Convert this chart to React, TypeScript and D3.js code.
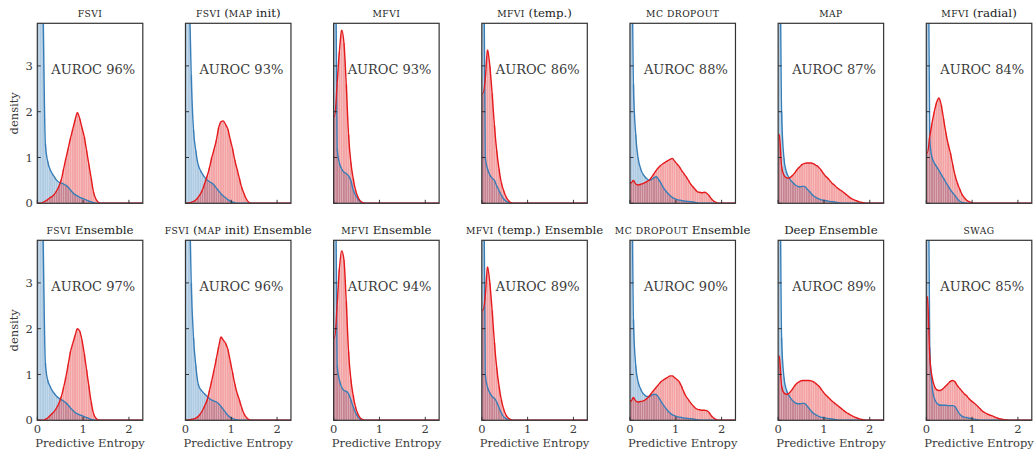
import React from "react";
import * as d3 from "d3";

// ---- data: histogram densities per 0.05-wide bin of predictive entropy (bins start at 0) ----
const BIN = 0.05;
const X_MAX = Math.log(10);
const Y_MAX = 3.93;

const titlesTop = ["FSVI", "FSVI (MAP init)", "MFVI", "MFVI (temp.)", "MC DROPOUT", "MAP", "MFVI (radial)"];
const titlesBottom = ["FSVI Ensemble", "FSVI (MAP init) Ensemble", "MFVI Ensemble", "MFVI (temp.) Ensemble", "MC DROPOUT Ensemble", "Deep Ensemble", "SWAG"];
const aurocTop = [96, 93, 93, 86, 88, 87, 84];
const aurocBottom = [97, 96, 94, 89, 90, 89, 85];
const yTicks = [0, 1, 2, 3];
const xTicks = [0, 1, 2];

// in-distribution (blue)
const fsviIn = [9, 6, 4.2, 1.3, 0.92, 0.75, 0.65, 0.57, 0.5, 0.46, 0.44, 0.42, 0.39, 0.35, 0.29, 0.23, 0.19, 0.16, 0.13, 0.11, 0.09, 0.07, 0.05, 0.03, 0.015, 0.005];
const fsviMapIn = [9, 5, 2.8, 1.6, 1.15, 0.85, 0.72, 0.63, 0.56, 0.51, 0.47, 0.44, 0.4, 0.33, 0.27, 0.21, 0.16, 0.12, 0.08, 0.05, 0.03, 0.01];
const mfviIn = [8, 1.2, 0.88, 0.75, 0.68, 0.65, 0.6, 0.5, 0.3, 0.18, 0.1, 0.04, 0.01];
const mfviTempIn = [8, 1.0, 0.75, 0.62, 0.55, 0.5, 0.38, 0.28, 0.18, 0.1, 0.05, 0.02];
const mcdIn = [7, 2.6, 1.5, 1.0, 0.78, 0.65, 0.58, 0.53, 0.5, 0.52, 0.56, 0.58, 0.52, 0.44, 0.35, 0.28, 0.22, 0.17, 0.13, 0.1, 0.08, 0.07, 0.06, 0.05, 0.045, 0.04, 0.035, 0.03, 0.02, 0.01];
const mapIn = [7, 2.0, 1.0, 0.7, 0.58, 0.5, 0.45, 0.4, 0.37, 0.36, 0.37, 0.37, 0.32, 0.27, 0.21, 0.16, 0.13, 0.1, 0.08, 0.07, 0.06, 0.05, 0.04, 0.035, 0.03, 0.02, 0.01];
const radialIn = [8, 1.4, 1.0, 0.88, 0.8, 0.72, 0.63, 0.55, 0.46, 0.38, 0.3, 0.23, 0.17, 0.1, 0.05, 0.02, 0.01];
const fsviEnsIn = [9, 6, 4.0, 1.25, 0.88, 0.75, 0.65, 0.58, 0.52, 0.48, 0.45, 0.42, 0.38, 0.33, 0.27, 0.22, 0.17, 0.14, 0.12, 0.1, 0.08, 0.06, 0.04, 0.02, 0.01];
const fsviMapEnsIn = [9, 5.5, 3.0, 1.8, 1.2, 0.8, 0.68, 0.62, 0.57, 0.52, 0.47, 0.44, 0.42, 0.4, 0.36, 0.3, 0.24, 0.17, 0.11, 0.07, 0.04, 0.02, 0.01];
const mfviEnsIn = [8, 1.2, 0.88, 0.72, 0.65, 0.63, 0.58, 0.45, 0.3, 0.17, 0.08, 0.03, 0.01];
const mfviTempEnsIn = [8, 1.0, 0.72, 0.6, 0.52, 0.48, 0.4, 0.28, 0.16, 0.08, 0.04, 0.01];
const mcdEnsIn = [7, 2.2, 1.2, 0.85, 0.7, 0.6, 0.55, 0.52, 0.52, 0.55, 0.57, 0.56, 0.5, 0.42, 0.34, 0.27, 0.21, 0.16, 0.12, 0.1, 0.08, 0.07, 0.06, 0.05, 0.045, 0.04, 0.035, 0.03, 0.02, 0.01];
const deepEnsIn = [7, 1.8, 0.95, 0.68, 0.56, 0.48, 0.42, 0.38, 0.36, 0.36, 0.37, 0.37, 0.32, 0.26, 0.2, 0.15, 0.12, 0.09, 0.07, 0.06, 0.05, 0.04, 0.035, 0.03, 0.02, 0.01];
const swagIn = [8, 1.6, 0.75, 0.48, 0.38, 0.34, 0.33, 0.33, 0.33, 0.32, 0.32, 0.32, 0.3, 0.22, 0.14, 0.09, 0.07, 0.06, 0.05, 0.04, 0.03, 0.02, 0.01];

// out-of-distribution (red)
const fsviOut = [0, 0, 0.02, 0.05, 0.08, 0.12, 0.15, 0.2, 0.28, 0.38, 0.52, 0.75, 0.98, 1.2, 1.42, 1.62, 1.82, 1.98, 1.85, 1.65, 1.45, 1.15, 0.85, 0.55, 0.25, 0.1, 0.03];
const fsviMapOut = [0, 0.01, 0.02, 0.04, 0.07, 0.13, 0.2, 0.3, 0.45, 0.6, 0.78, 1.0, 1.18, 1.38, 1.65, 1.78, 1.8, 1.72, 1.62, 1.4, 1.2, 0.95, 0.75, 0.55, 0.35, 0.22, 0.1, 0.03];
const mfviOut = [1.9, 2.6, 3.3, 3.78, 3.5, 2.6, 1.5, 0.9, 0.55, 0.3, 0.15, 0.06, 0.02];
const mfviTempOut = [2.4, 2.7, 3.35, 3.0, 2.4, 1.7, 1.15, 0.75, 0.45, 0.28, 0.15, 0.07, 0.02];
const mcdOut = [0.45, 0.5, 0.42, 0.4, 0.41, 0.43, 0.45, 0.48, 0.51, 0.57, 0.65, 0.72, 0.78, 0.83, 0.87, 0.9, 0.93, 0.96, 0.98, 0.92, 0.86, 0.8, 0.72, 0.65, 0.58, 0.5, 0.42, 0.36, 0.3, 0.25, 0.24, 0.23, 0.24, 0.22, 0.17, 0.1, 0.05, 0.02];
const mapOut = [1.5, 0.8, 0.62, 0.56, 0.55, 0.57, 0.62, 0.68, 0.75, 0.8, 0.85, 0.87, 0.88, 0.88, 0.88, 0.86, 0.83, 0.8, 0.74, 0.67, 0.6, 0.56, 0.5, 0.44, 0.4, 0.35, 0.31, 0.28, 0.24, 0.2, 0.16, 0.12, 0.09, 0.07, 0.05, 0.03, 0.02, 0.01];
const radialOut = [1.1, 1.45, 1.75, 2.0, 2.2, 2.3, 2.15, 1.85, 1.55, 1.3, 1.1, 0.85, 0.62, 0.45, 0.32, 0.2, 0.13, 0.07, 0.04, 0.02];
const fsviEnsOut = [0, 0, 0, 0.02, 0.05, 0.1, 0.15, 0.2, 0.28, 0.38, 0.52, 0.72, 0.95, 1.22, 1.5, 1.68, 1.85, 2.0, 1.95, 1.75, 1.45, 1.1, 0.75, 0.4, 0.15, 0.05, 0.01];
const fsviMapEnsOut = [0, 0.01, 0.02, 0.03, 0.05, 0.08, 0.14, 0.22, 0.33, 0.45, 0.65, 0.87, 1.1, 1.35, 1.6, 1.82, 1.75, 1.68, 1.55, 1.3, 1.05, 0.8, 0.6, 0.45, 0.28, 0.15, 0.07, 0.02];
const mfviEnsOut = [1.8, 2.5, 3.3, 3.7, 3.5, 2.6, 1.5, 0.9, 0.55, 0.3, 0.15, 0.06, 0.02];
const mfviTempEnsOut = [2.4, 2.7, 3.35, 3.0, 2.4, 1.7, 1.15, 0.75, 0.45, 0.25, 0.12, 0.05, 0.02];
const mcdEnsOut = [0.42, 0.5, 0.42, 0.4, 0.41, 0.42, 0.44, 0.48, 0.53, 0.6, 0.66, 0.72, 0.78, 0.84, 0.88, 0.91, 0.94, 0.97, 0.97, 0.93, 0.89, 0.84, 0.74, 0.62, 0.52, 0.45, 0.38, 0.32, 0.27, 0.24, 0.23, 0.22, 0.22, 0.21, 0.17, 0.1, 0.05, 0.02];
const deepEnsOut = [1.4, 0.75, 0.6, 0.57, 0.58, 0.63, 0.7, 0.77, 0.82, 0.85, 0.87, 0.87, 0.87, 0.87, 0.86, 0.84, 0.8, 0.76, 0.7, 0.63, 0.57, 0.52, 0.47, 0.42, 0.38, 0.34, 0.3, 0.26, 0.22, 0.18, 0.15, 0.12, 0.09, 0.07, 0.05, 0.03, 0.02, 0.01];
const swagOut = [2.7, 1.4, 0.95, 0.75, 0.67, 0.65, 0.66, 0.7, 0.75, 0.8, 0.85, 0.87, 0.84, 0.76, 0.7, 0.64, 0.58, 0.54, 0.48, 0.43, 0.39, 0.35, 0.3, 0.25, 0.2, 0.17, 0.14, 0.12, 0.1, 0.08, 0.06, 0.04, 0.03, 0.02, 0.01, 0.01];

const inTop = [fsviIn, fsviMapIn, mfviIn, mfviTempIn, mcdIn, mapIn, radialIn];
const outTop = [fsviOut, fsviMapOut, mfviOut, mfviTempOut, mcdOut, mapOut, radialOut];
const inBottom = [fsviEnsIn, fsviMapEnsIn, mfviEnsIn, mfviTempEnsIn, mcdEnsIn, deepEnsIn, swagIn];
const outBottom = [fsviEnsOut, fsviMapEnsOut, mfviEnsOut, mfviTempEnsOut, mcdEnsOut, deepEnsOut, swagOut];

const BLUE = "#377eb8";
const RED = "#e41a1c";
const FONT = '"DejaVu Serif", serif';
const TEXT = "#3a3a3a";

const W = 1036;
const H = 456;
const PW = 105.5;
const PH = 180;
const ROW_TOP = [23.3, 240.3];
const colX = d3.scaleLinear().domain([0, 6]).range([37.3, 926.3]);

function capsTokens(s: string) {
  return s.split(/([A-Z]{2,})/).filter((t) => t.length > 0).map((t) => ({ t, caps: /^[A-Z]{2,}$/.test(t) }));
}

const serif = { fontFamily: FONT } as React.CSSProperties;

function Title({ text, x, y }: { text: string; x: number; y: number }) {
  return (
    <text x={x} y={y} textAnchor="middle" style={{ ...serif, fontSize: 11.8 }} fill="#222">
      {capsTokens(text).map((tk, i) => (
        <tspan key={i} style={{ fontSize: tk.caps ? 9.2 : 11.8, letterSpacing: tk.caps ? 0.4 : 0 }}>
          {tk.t}
        </tspan>
      ))}
    </text>
  );
}

function Panel({ row, col, inD, outD, title, auroc }: any) {
  const left = colX(col);
  const top = ROW_TOP[row];
  const x = d3.scaleLinear().domain([0, X_MAX]).range([0, PW]);
  const y = d3.scaleLinear().domain([0, Y_MAX]).range([PH, 0]);
  const line = d3
    .line<[number, number]>()
    .x((d) => x(d[0]))
    .y((d) => y(d[1]))
    .curve(d3.curveMonotoneX);
  const pts = (arr: number[]): [number, number][] => {
    const p: [number, number][] = [[0, arr[0]]];
    arr.forEach((v, i) => p.push([(i + 0.5) * BIN, v]));
    p.push([(arr.length + 0.5) * BIN, 0]);
    p.push([X_MAX, 0]);
    return p;
  };
  const bars = (arr: number[], color: string) =>
    arr.map((v, i) => (
      <rect
        key={i}
        x={x(i * BIN)}
        y={y(v)}
        width={x(BIN) - x(0)}
        height={Math.max(0, y(0) - y(v))}
        fill={color}
        fillOpacity={0.4}
        stroke="#fff"
        strokeOpacity={0.35}
        strokeWidth={0.4}
      />
    ));
  const clipId = `clip-${row}-${col}`;
  return (
    <g transform={`translate(${left},${top})`}>
      <defs>
        <clipPath id={clipId}>
          <rect x={0} y={0} width={PW} height={PH} />
        </clipPath>
      </defs>
      <g clipPath={`url(#${clipId})`}>
        {bars(inD, BLUE)}
        {bars(outD, RED)}
        <path d={line(pts(inD)) || ""} fill="none" stroke={BLUE} strokeWidth={1.4} />
        <path d={line(pts(outD)) || ""} fill="none" stroke={RED} strokeWidth={1.4} />
      </g>
      <text x={PW * 0.53} y={51} textAnchor="middle" style={{ ...serif, fontSize: 13 }} fill={TEXT}>
        AUROC {auroc}%
      </text>
      {yTicks.map((t) => (
        <line key={"yt" + t} x1={0} x2={3.5} y1={y(t)} y2={y(t)} stroke="#222" strokeWidth={0.9} />
      ))}
      {xTicks.map((t) => (
        <line key={"xt" + t} x1={x(t)} x2={x(t)} y1={PH} y2={PH - 3.5} stroke="#222" strokeWidth={0.9} />
      ))}
      <rect x={0} y={0} width={PW} height={PH} fill="none" stroke="#333" strokeWidth={1.2} />
      {col === 0 &&
        yTicks.map((t) => (
          <text key={"yl" + t} x={-4.5} y={y(t)} dy="0.35em" textAnchor="end" style={{ ...serif, fontSize: 11.5 }} fill={TEXT}>
            {t}
          </text>
        ))}
      {col === 0 && (
        <text transform={`translate(-19,${PH / 2}) rotate(-90)`} textAnchor="middle" style={{ ...serif, fontSize: 11.5 }} fill={TEXT}>
          density
        </text>
      )}
      {row === 1 &&
        xTicks.map((t) => (
          <text key={"xl" + t} x={x(t)} y={PH + 12.5} textAnchor="middle" style={{ ...serif, fontSize: 11.5 }} fill={TEXT}>
            {t}
          </text>
        ))}
      {row === 1 && (
        <text x={PW / 2} y={PH + 26.5} textAnchor="middle" style={{ ...serif, fontSize: 11.5 }} fill={TEXT}>
          Predictive Entropy
        </text>
      )}
      <Title text={title} x={PW / 2} y={-6} />
    </g>
  );
}

export default function App() {
  return (
    <svg width={W} height={H} style={{ position: "absolute", left: 0, top: 0, background: "#fff" }}>
      {titlesTop.map((t, c) => (
        <Panel key={"t" + c} row={0} col={c} inD={inTop[c]} outD={outTop[c]} title={t} auroc={aurocTop[c]} />
      ))}
      {titlesBottom.map((t, c) => (
        <Panel key={"b" + c} row={1} col={c} inD={inBottom[c]} outD={outBottom[c]} title={t} auroc={aurocBottom[c]} />
      ))}
    </svg>
  );
}
